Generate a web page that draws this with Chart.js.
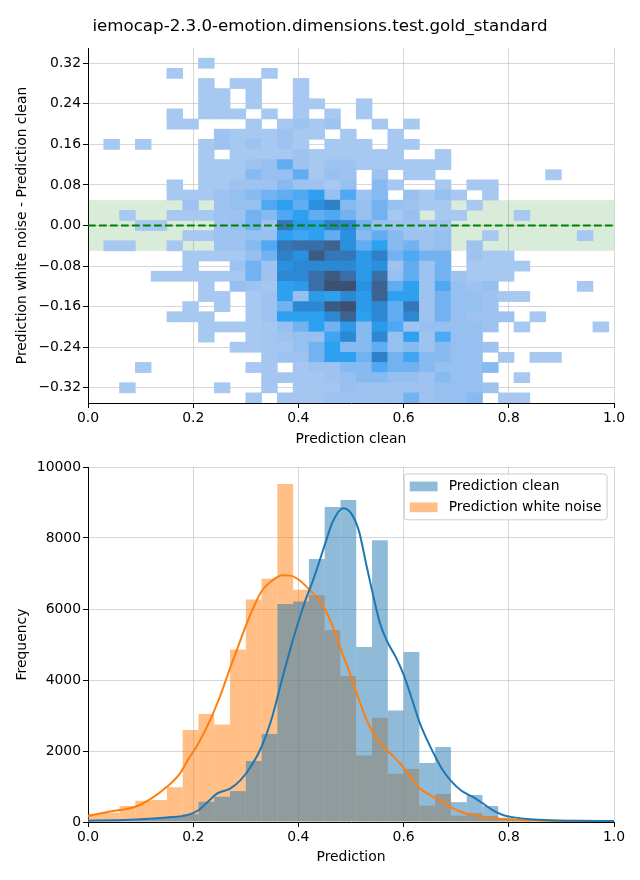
<!DOCTYPE html>
<html>
<head>
<meta charset="utf-8">
<script src="https://cdn.jsdelivr.net/npm/chart.js@4.4.1/dist/chart.umd.min.js"></script>
<style>
  body { margin: 0; background: #fff; }
  #wrap { position: relative; width: 640px; height: 880px; }
  canvas { position: absolute; left: 0; }
  #heat { top: 0; }
  #hist { top: 450px; }
</style>
</head>
<body>
<div id="wrap">
  <canvas id="heat" width="640" height="450"></canvas>
  <canvas id="hist" width="640" height="430"></canvas>
</div>
<script>
const TITLE = 'iemocap-2.3.0-emotion.dimensions.test.gold_standard';

// bins along the prediction axis (shared by both plots)
const binEdges = [0.00, 0.03, 0.06, 0.09, 0.12, 0.15, 0.18, 0.21, 0.24, 0.27, 0.30, 0.33,
  0.36, 0.39, 0.42, 0.45, 0.48, 0.51, 0.54, 0.57, 0.60, 0.63, 0.66, 0.69, 0.72, 0.75,
  0.78, 0.81, 0.84, 0.87, 0.90, 0.93, 0.96, 0.99];

// rows of the 2d histogram (white noise - clean), top to bottom
const diffCenters = [0.34, 0.32, 0.30, 0.28, 0.26, 0.24, 0.22, 0.20, 0.18, 0.16, 0.14, 0.12,
  0.10, 0.08, 0.06, 0.04, 0.02, 0.00, -0.02, -0.04, -0.06, -0.08, -0.10, -0.12, -0.14,
  -0.16, -0.18, -0.20, -0.22, -0.24, -0.26, -0.28, -0.30, -0.32, -0.34];

// counts per cell (relative, 100 = darkest), one row per diffCenters entry
const heatCounts = [
  [0,0,0,0,0,0,0,0,0,0,0,0,0,0,0,0,0,0,0,0,0,0,0,0,0,0,0,0,0,0,0,0,0],
  [0,0,0,0,0,0,0,2,0,0,0,0,0,0,0,0,0,0,0,0,0,0,0,0,0,0,0,0,0,0,0,0,0],
  [0,0,0,0,0,2,0,0,0,0,0,2,0,0,0,0,0,0,0,0,0,0,0,0,0,0,0,0,0,0,0,0,0],
  [0,0,0,0,0,0,0,2,0,2,2,0,0,2,0,0,0,0,0,0,0,0,0,0,0,0,0,0,0,0,0,0,0],
  [0,0,0,0,0,0,0,2,2,0,2,0,0,2,0,0,0,0,0,0,0,0,0,0,0,0,0,0,0,0,0,0,0],
  [0,0,0,0,0,0,0,2,2,0,2,0,0,2,2,0,0,2,0,0,0,0,0,0,0,0,0,0,0,0,0,0,0],
  [0,0,0,0,0,2,0,2,2,2,0,2,0,2,0,2,0,2,0,0,0,0,0,0,0,0,0,0,0,0,0,0,0],
  [0,0,0,0,0,2,2,0,0,0,2,0,2,8,2,8,0,0,2,0,2,0,0,0,0,0,0,0,0,0,0,0,0],
  [0,0,0,0,0,0,0,0,8,2,2,2,8,2,2,0,2,0,0,2,0,0,0,0,0,0,0,0,0,0,0,0,0],
  [0,2,0,2,0,0,0,2,8,2,10,2,8,2,0,2,2,2,0,2,2,0,0,0,0,0,0,0,0,0,0,0,0],
  [0,0,0,0,0,0,0,2,0,2,2,2,2,8,2,2,2,2,2,2,0,0,2,0,0,0,0,0,0,0,0,0,0],
  [0,0,0,0,0,0,0,2,2,2,8,13,29,8,2,8,8,2,2,2,2,2,2,0,0,0,0,0,0,0,0,0,0],
  [0,0,0,0,0,0,0,2,2,2,18,13,13,29,2,13,8,0,8,0,2,2,0,0,0,0,0,0,0,2,0,0,0],
  [0,0,0,0,0,2,0,2,2,8,8,8,18,8,8,2,13,0,18,2,0,0,2,0,2,2,0,0,0,0,0,0,0],
  [0,0,0,0,0,2,2,2,8,13,18,24,29,35,46,13,35,8,18,0,13,2,13,2,0,2,0,0,0,0,0,0,0],
  [0,0,0,0,0,0,8,0,8,13,13,35,46,29,57,67,18,13,24,13,8,2,2,0,2,0,0,0,0,0,0,0,0],
  [0,0,2,0,0,2,2,2,8,8,24,18,35,46,29,35,24,13,24,2,13,0,2,2,0,0,0,2,0,0,0,0,0],
  [0,0,0,2,2,0,0,0,8,13,24,8,73,51,46,67,62,24,13,8,8,2,8,0,0,0,0,0,0,0,0,0,0],
  [0,0,0,0,0,0,2,2,8,8,13,13,46,40,46,29,57,18,29,18,8,8,13,0,0,2,0,0,0,0,0,2,0],
  [0,2,2,0,0,2,0,0,8,8,18,35,73,78,78,84,57,29,46,18,24,8,13,0,8,0,0,0,0,0,0,0,0],
  [0,0,0,0,0,0,2,2,2,2,13,24,67,57,89,73,73,51,67,24,35,24,24,0,8,2,2,0,0,0,0,0,0],
  [0,0,0,0,0,0,2,0,0,8,24,8,57,62,62,62,62,51,57,8,29,8,24,0,2,2,2,2,0,0,0,0,0],
  [0,0,0,0,2,2,2,2,2,2,24,8,62,62,78,89,78,51,78,13,29,8,24,8,2,2,2,0,0,0,0,0,0],
  [0,0,0,0,0,0,0,2,0,13,8,4,46,51,78,100,100,57,84,29,46,8,35,13,8,13,0,0,0,0,0,2,0],
  [0,0,0,0,0,0,0,2,2,0,2,8,46,13,51,46,62,51,84,46,46,8,24,13,13,8,2,2,0,0,0,0,0],
  [0,0,0,0,0,0,2,0,2,0,2,8,24,62,62,89,100,51,62,29,73,8,24,13,13,8,0,0,0,0,0,0,0],
  [0,0,0,0,0,2,2,2,0,0,2,8,46,46,46,62,84,46,62,29,62,8,24,13,8,8,8,0,2,0,0,0,0],
  [0,0,0,0,0,0,0,2,2,2,2,4,13,24,46,24,51,18,51,35,8,13,13,13,13,8,0,2,0,0,0,0,2],
  [0,0,0,0,0,0,0,2,0,0,2,4,8,13,13,40,62,18,62,13,46,8,35,13,13,0,0,0,0,0,0,0,0],
  [0,0,0,0,0,0,0,0,0,2,2,4,4,13,24,46,18,18,29,13,18,8,18,13,13,8,0,0,0,0,0,0,0],
  [0,0,0,0,0,0,0,0,0,0,0,4,8,8,24,46,46,24,67,24,40,18,18,13,13,0,2,0,2,2,0,0,0],
  [0,0,0,2,0,0,0,0,0,0,2,4,0,4,8,8,18,18,35,24,24,18,13,13,13,18,0,0,0,0,0,0,0],
  [0,0,0,0,0,0,0,0,0,0,0,4,4,4,4,8,13,18,18,13,13,8,18,13,13,0,0,2,0,0,0,0,0],
  [0,0,2,0,0,0,0,0,2,0,0,4,0,4,4,4,13,8,8,8,8,8,13,13,13,8,0,0,0,0,0,0,0],
  [0,0,0,0,0,0,0,0,0,0,2,0,4,4,4,8,8,8,8,8,24,8,13,13,18,0,2,2,0,0,0,0,0]
];

// 1d histograms, one count per bin
const cleanCounts = [20, 40, 50, 70, 110, 150, 220, 570, 710, 870, 1720, 2480, 6140, 6210,
  7410, 8870, 9070, 4930, 7940, 3140, 4790, 1660, 2110, 560, 760, 450, 120, 50, 20, 10, 5, 3, 2];
const noiseCounts = [230, 260, 450, 600, 620, 980, 2590, 3040, 2750, 4860, 6270, 6850, 9520,
  6540, 6390, 5410, 4110, 1870, 2940, 1360, 1490, 460, 790, 180, 250, 170, 85, 30, 15, 8, 4, 2, 1];

// kde curves
const cleanKdeX = [0.0, 0.05, 0.1, 0.15, 0.19, 0.21, 0.23, 0.245, 0.27, 0.29, 0.31, 0.33, 0.35,
  0.37, 0.39, 0.41, 0.43, 0.45, 0.465, 0.485, 0.5, 0.515, 0.53, 0.545, 0.555, 0.57, 0.585, 0.6,
  0.615, 0.63, 0.645, 0.66, 0.675, 0.69, 0.71, 0.73, 0.75, 0.77, 0.79, 0.81, 0.84, 0.88, 0.93, 1.0];
const cleanKdeY = [37, 50, 75, 130, 200, 330, 600, 800, 940, 1180, 1570, 2120, 2950,
  4080, 5150, 6100, 6900, 7800, 8450, 8840, 8700, 8200, 7190, 6200, 5600, 5050, 4650, 4150,
  3500, 2820, 2300, 1850, 1450, 1160, 880, 720, 530, 330, 190, 130, 80, 50, 35, 28];
const noiseKdeX = [0.0, 0.04, 0.09, 0.12, 0.15, 0.175, 0.19, 0.21, 0.23, 0.25, 0.27, 0.29, 0.31,
  0.33, 0.35, 0.37, 0.385, 0.40, 0.42, 0.445, 0.465, 0.48, 0.5, 0.515, 0.53, 0.545, 0.56, 0.575,
  0.595, 0.615, 0.63, 0.65, 0.67, 0.69, 0.71, 0.735, 0.76, 0.785, 0.82, 0.87, 1.0];
const noiseKdeY = [170, 290, 430, 660, 990, 1370, 1750, 2220, 2800, 3500, 4330, 5130, 5890,
  6500, 6800, 6950, 6940, 6830, 6560, 6140, 5520, 4900, 4100, 3450, 2870, 2430, 2150, 1930,
  1620, 1240, 960, 760, 600, 420, 280, 190, 130, 85, 55, 37, 25];

const xTicks = [0, 0.2, 0.4, 0.6, 0.8, 1.0];
const diffTicks = [-0.32, -0.24, -0.16, -0.08, 0, 0.08, 0.16, 0.24, 0.32];
const freqTicks = [0, 2000, 4000, 6000, 8000, 10000];

const FONT = "'DejaVu Sans', sans-serif";
const FS = 13.9;
const BLUE = 'rgba(31,119,180,0.5)';
const ORANGE = 'rgba(255,127,14,0.5)';

Chart.defaults.font.family = FONT;
Chart.defaults.color = '#000';

// colour ramp of the 2d histogram (light -> bright -> dark blue)
const heatStops = [
  [0, [170, 201, 240]], [13, [150, 192, 240]], [24, [114, 178, 240]], [35, [78, 168, 244]],
  [46, [46, 160, 240]], [57, [42, 144, 224]], [67, [48, 128, 200]], [78, [58, 110, 168]],
  [89, [61, 90, 128]], [100, [61, 80, 112]]
];

function heatColor(n) {
  let i = 1;
  while (i < heatStops.length - 1 && n > heatStops[i][0]) i++;
  const [a, ca] = heatStops[i - 1], [b, cb] = heatStops[i];
  const t = Math.max(0, Math.min(1, (n - a) / (b - a)));
  const c = ca.map((v, k) => Math.round(v + (cb[k] - v) * t));
  return `rgb(${c[0]},${c[1]},${c[2]})`;
}

const binMid = i => (binEdges[i] + binEdges[i + 1]) / 2;
const halfRow = Math.abs(diffCenters[0] - diffCenters[1]) / 2;

const heatCells = [];
heatCounts.forEach((row, r) => row.forEach((n, c) => {
  if (n > 0) heatCells.push({ x: binMid(c), y: [diffCenters[r] - halfRow, diffCenters[r] + halfRow], n });
}));

const minus = s => s.replace('-', '\u2212');

function axis(extra) {
  return Object.assign({
    type: 'linear',
    offset: false,
    grid: { color: 'rgba(176,176,176,0.5)', lineWidth: 1, tickColor: '#000', tickLength: 5, offset: false },
    border: { color: '#000', width: 1 },
    ticks: { font: { size: FS }, color: '#000', autoSkip: false, maxRotation: 0, padding: 2 }
  }, extra);
}

function axisTitle(text, pad) {
  return { display: true, text, font: { size: FS }, color: '#000', padding: pad };
}

const figTitle = {
  id: 'figTitle',
  afterDraw(chart) {
    const ctx = chart.ctx;
    ctx.save();
    ctx.font = `16.67px ${FONT}`;
    ctx.fillStyle = '#000';
    ctx.textAlign = 'center';
    ctx.textBaseline = 'middle';
    ctx.fillText(TITLE, chart.width / 2, 27);
    ctx.restore();
  }
};

// +-0.05 tolerance band and the zero line
const band = {
  id: 'band',
  beforeDatasetsDraw(chart) {
    const { ctx, chartArea: a, scales: { y } } = chart;
    const top = y.getPixelForValue(0.05), bottom = y.getPixelForValue(-0.05);
    ctx.save();
    ctx.fillStyle = 'rgba(0,128,0,0.15)';
    ctx.fillRect(a.left, top, a.right - a.left, bottom - top);
    ctx.restore();
  },
  afterDraw(chart) {
    const { ctx, chartArea: a, scales: { y } } = chart;
    const y0 = y.getPixelForValue(0);
    ctx.save();
    ctx.strokeStyle = 'green';
    ctx.lineWidth = 2;
    ctx.setLineDash([7.7, 3.3]);
    ctx.beginPath();
    ctx.moveTo(a.left, y0);
    ctx.lineTo(a.right, y0);
    ctx.stroke();
    ctx.restore();
  }
};

const boxLegend = {
  id: 'boxLegend',
  afterDraw(chart) {
    const { ctx, chartArea: a } = chart;
    const items = chart.data.datasets.filter(d => d.type === 'bar');
    ctx.save();
    ctx.font = `${FS}px ${FONT}`;
    const tw = Math.max(...items.map(d => ctx.measureText(d.label).width));
    const pad = 0.4 * FS, hl = 2 * FS, hp = 0.8 * FS;
    const w = 2 * pad + hl + hp + tw;
    const h = 2 * pad + items.length * FS + (items.length - 1) * 0.5 * FS;
    const x0 = a.right - 0.5 * FS - w, y0 = a.top + 0.5 * FS;
    ctx.beginPath();
    ctx.roundRect(x0, y0, w, h, 0.2 * FS);
    ctx.fillStyle = 'rgba(255,255,255,0.8)';
    ctx.fill();
    ctx.strokeStyle = '#cccccc';
    ctx.lineWidth = 1;
    ctx.stroke();
    items.forEach((d, i) => {
      const cy = y0 + pad + FS / 2 + i * 1.5 * FS;
      ctx.fillStyle = d.backgroundColor;
      ctx.fillRect(x0 + pad, cy - 0.35 * FS, hl, 0.7 * FS);
      ctx.fillStyle = '#000';
      ctx.textBaseline = 'middle';
      ctx.fillText(d.label, x0 + pad + hl + hp, cy);
    });
    ctx.restore();
  }
};

new Chart(document.getElementById('heat'), {
  type: 'bar',
  data: {
    datasets: [{
      data: heatCells,
      backgroundColor: c => heatColor(c.raw.n),
      borderWidth: 0,
      barPercentage: 1,
      categoryPercentage: 1
    }]
  },
  options: {
    responsive: false,
    animation: false,
    devicePixelRatio: 1,
    layout: { padding: { left: 0, right: 26, top: 48, bottom: 0 } },
    plugins: { legend: { display: false }, tooltip: { enabled: false } },
    scales: {
      x: axis({
        min: 0, max: 1, z: 1,
        afterBuildTicks: s => { s.ticks = xTicks.map(value => ({ value })); },
        afterFit: s => { s.height = 47; },
        title: axisTitle('Prediction clean', { bottom: 2.7 })
      }),
      y: axis({
        min: -0.35, max: 0.35, z: 1,
        afterBuildTicks: s => { s.ticks = diffTicks.map(value => ({ value })); },
        afterFit: s => { s.width = 88; },
        title: axisTitle('Prediction white noise - Prediction clean', { top: 13.7 })
      })
    }
  },
  plugins: [band, figTitle]
});
// tick label formats
Chart.getChart('heat').options.scales.x.ticks.callback = v => v.toFixed(1);
Chart.getChart('heat').options.scales.y.ticks.callback = v => minus(v.toFixed(2));
Chart.getChart('heat').update();

new Chart(document.getElementById('hist'), {
  type: 'bar',
  data: {
    datasets: [
      {
        type: 'line', label: 'clean kde', order: 0,
        data: cleanKdeX.map((x, i) => ({ x, y: cleanKdeY[i] })),
        borderColor: '#1f77b4', borderWidth: 2, pointRadius: 0, cubicInterpolationMode: 'monotone'
      },
      {
        type: 'line', label: 'white noise kde', order: 0,
        data: noiseKdeX.map((x, i) => ({ x, y: noiseKdeY[i] })),
        borderColor: '#ff7f0e', borderWidth: 2, pointRadius: 0, cubicInterpolationMode: 'monotone'
      },
      {
        type: 'bar', label: 'Prediction clean', order: 1,
        data: cleanCounts.map((y, i) => ({ x: binMid(i), y })),
        backgroundColor: BLUE, borderWidth: 0, grouped: false,
        barPercentage: 1, categoryPercentage: 1, inflateAmount: 0
      },
      {
        type: 'bar', label: 'Prediction white noise', order: 2,
        data: noiseCounts.map((y, i) => ({ x: binMid(i), y })),
        backgroundColor: ORANGE, borderWidth: 0, grouped: false,
        barPercentage: 1, categoryPercentage: 1, inflateAmount: 0
      }
    ]
  },
  options: {
    responsive: false,
    animation: false,
    devicePixelRatio: 1,
    layout: { padding: { left: 0, right: 26, top: 17, bottom: 0 } },
    plugins: { legend: { display: false }, tooltip: { enabled: false } },
    scales: {
      x: axis({
        min: 0, max: 1,
        afterBuildTicks: s => { s.ticks = xTicks.map(value => ({ value })); },
        afterFit: s => { s.height = 58; },
        title: axisTitle('Prediction', { bottom: 14.7 })
      }),
      y: axis({
        min: 0, max: 10000,
        afterBuildTicks: s => { s.ticks = freqTicks.map(value => ({ value })); },
        afterFit: s => { s.width = 88; },
        title: axisTitle('Frequency', { top: 13.7 })
      })
    }
  },
  plugins: [boxLegend]
});
Chart.getChart('hist').options.scales.x.ticks.callback = v => v.toFixed(1);
Chart.getChart('hist').options.scales.y.ticks.callback = v => String(v);
Chart.getChart('hist').update();
</script>
</body>
</html>
